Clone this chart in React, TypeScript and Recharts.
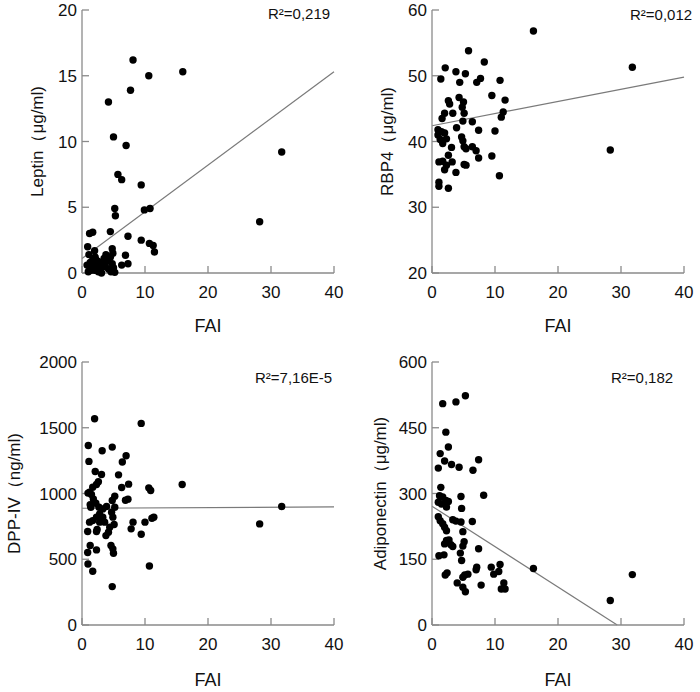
import React from 'react';
import {
  ScatterChart,
  Scatter,
  XAxis,
  YAxis,
  ReferenceLine,
} from 'recharts';

const FONT = '"Liberation Sans", Arial, sans-serif';
const AXIS = '#8a8a8a';

const faiTicks = [0, 10, 20, 30, 40];

// Leptin vs FAI
const leptinFai = [
  8.1, 16.0, 10.6, 7.7, 4.2, 5.0, 7.0, 5.7, 6.3, 9.4, 31.7, 28.2, 5.2, 5.3, 9.9, 10.8,
  1.2, 1.7, 4.5, 7.3, 9.4, 10.7, 11.3, 11.5, 0.9, 2.0, 4.8, 4.9, 3.8, 6.9, 7.3, 6.3, 5.2,
  1.0, 1.2, 1.3, 1.5, 1.7, 1.8, 2.0, 2.1, 2.3, 2.5, 2.6, 2.8, 3.0, 3.1, 3.3, 3.5, 3.7,
  4.0, 4.2, 4.5, 4.8, 5.0, 1.1, 2.2, 4.6, 0.8, 1.4,
];
const leptinValues = [
  16.2, 15.3, 15.0, 13.9, 13.0, 10.35, 9.7, 7.5, 7.1, 6.7, 9.2, 3.9, 4.9, 4.35, 4.8, 4.9,
  3.0, 3.1, 3.15, 2.8, 2.5, 2.25, 2.1, 1.6, 2.0, 1.7, 1.85, 1.5, 1.4, 1.35, 0.7, 0.6, 0.05,
  0.1, 0.5, 0.8, 0.3, 1.0, 0.6, 0.2, 1.2, 0.4, 0.9, 0.1, 0.6, 0.3, 0.0, 0.8, 1.1, 0.5,
  0.9, 0.3, 1.2, 0.7, 0.4, 1.4, 1.0, 0.1, 0.6, 0.2,
];
const leptinTrendX = [0, 40];
const leptinTrendY = [1.1, 15.3];

// RBP4 vs FAI
const rbpFai = [
  16.1, 31.8, 28.3, 5.8, 8.3, 2.1, 3.8, 5.3, 1.4, 4.4, 7.1, 7.7, 10.8, 9.5, 11.6, 4.3,
  5.0, 2.6, 2.8, 4.8, 3.3, 2.0, 1.6, 5.1, 4.9, 6.4, 11.3, 11.0, 3.9, 7.4, 10.0,
  0.95, 1.5, 0.95, 2.0, 1.3, 2.3, 1.7, 3.1, 4.7, 4.9, 5.1, 5.4, 6.4, 7.0, 7.4, 9.5,
  2.6, 1.1, 1.7, 3.2, 2.3, 2.0, 5.1, 5.4, 3.8, 10.7, 1.1, 1.1, 2.6,
];
const rbpValues = [
  56.8, 51.3, 38.7, 53.8, 52.1, 51.2, 50.6, 50.3, 49.5, 49.0, 49.0, 49.6, 49.3, 47.0, 46.3, 46.7,
  46.0, 46.2, 45.7, 45.2, 44.3, 44.3, 43.5, 44.3, 43.1, 43.0, 44.5, 43.7, 42.1, 41.7, 41.6,
  41.8, 41.5, 41.0, 41.3, 40.3, 40.4, 39.7, 39.1, 40.7, 40.1, 39.2, 38.9, 39.2, 38.6, 37.5, 37.8,
  37.9, 36.9, 37.0, 36.9, 36.4, 35.7, 36.5, 36.4, 35.3, 34.8, 33.8, 33.2, 32.9,
];
const rbpTrendX = [0, 40];
const rbpTrendY = [42.4, 49.8];

// DPP-IV vs FAI
const dppFai = [
  2.0, 9.4, 1.0, 4.8, 3.2, 7.0, 1.1, 6.4, 2.1, 3.1, 5.8, 2.6, 2.3, 1.7, 1.2, 0.95,
  7.4, 6.3, 15.9, 10.6, 10.9, 5.2, 7.3, 6.9, 4.8, 1.5, 1.8, 2.2, 2.7, 1.4, 1.3,
  3.3, 3.9, 4.7, 5.2, 31.7, 2.8, 2.3, 3.3, 1.7, 1.2, 2.8, 3.6, 4.9, 5.1, 11.4, 11.1,
  8.1, 7.8, 10.0, 28.2, 0.9, 2.3, 2.4, 4.4, 4.2, 3.8, 9.4, 1.3, 4.6, 4.9, 5.0, 2.3,
  0.9, 0.95, 10.7, 1.7, 4.8,
];
const dppValues = [
  1568, 1533, 1365, 1353, 1325, 1287, 1244, 1239, 1167, 1145, 1142, 1089, 1068, 1048, 1010, 1003,
  1071, 1046, 1068, 1043, 1023, 980, 957, 949, 947, 992, 959, 926, 896, 896, 914,
  883, 901, 858, 896, 901, 845, 820, 820, 794, 782, 782, 782, 820, 764, 820, 812,
  782, 731, 782, 769, 711, 711, 726, 744, 706, 680, 690, 604, 604, 579, 546, 571,
  551, 464, 449, 409, 292,
];
const dppTrendX = [0, 40];
const dppTrendY = [888, 898];

// Adiponectin vs FAI
const adipoFai = [
  5.3, 3.8, 1.7, 2.2, 2.6, 1.3, 7.4, 2.0, 3.1, 4.3, 1.0, 6.5, 1.4,
  1.2, 1.7, 1.0, 2.2, 2.6, 1.5, 2.3, 8.2, 4.6, 4.7,
  1.0, 1.3, 1.7, 2.0, 2.3, 3.3, 3.8, 4.6, 6.4, 4.9,
  2.3, 2.7, 2.0, 3.0, 3.3, 5.1, 4.9, 7.4, 4.5, 4.7, 1.1, 1.9, 16.1,
  7.1, 7.0, 9.4, 9.8, 10.6, 10.8, 2.4, 2.1, 5.2, 4.9, 5.7, 4.0, 7.8,
  11.4, 11.0, 11.6, 4.9, 5.3, 31.8, 28.3,
];
const adipoValues = [
  523, 509, 505, 440, 406, 391, 377, 374, 366, 360, 358, 353, 314,
  295, 292, 280, 284, 282, 276, 269, 296, 293, 266,
  247, 238, 231, 223, 215, 240, 237, 235, 236, 213,
  193, 194, 185, 183, 179, 190, 180, 174, 164, 147, 158, 160, 129,
  132, 126, 132, 116, 122, 138, 119, 114, 114, 109, 116, 96, 91,
  96, 82, 82, 86, 76, 115, 56,
];
const adipoTrendX = [0, 29.4];
const adipoTrendY = [271, 0];

const toPoints = (xs: number[], ys: number[]) => xs.map((x, i) => ({ x, y: ys[i] }));

const Dot = (p: any) => <circle cx={p.cx} cy={p.cy} r={3.7} fill="#000" />;

interface PanelProps {
  left: number;
  top: number;
  height: number;
  bottomMargin: number;
  fai: number[];
  values: number[];
  domain: [number, number];
  ticks: number[];
  title: string;
  titleOffset: number;
  trendX: number[];
  trendY: number[];
  r2: string;
  r2Left: number;
  r2Top: number;
  labelOffset: number;
}

function Panel(p: PanelProps) {
  const data = toPoints(p.fai, p.values);
  const tickStyle = { fontSize: 17, fill: '#111', fontFamily: FONT };
  return (
    <>
      <div style={{ position: 'absolute', left: p.left, top: p.top }}>
        <ScatterChart
          width={350}
          height={p.height}
          margin={{ top: 10, right: 16, bottom: p.bottomMargin, left: 0 }}
        >
          <XAxis
            type="number"
            dataKey="x"
            domain={[0, 40]}
            ticks={faiTicks}
            height={60}
            stroke={AXIS}
            strokeWidth={1.3}
            tickSize={-7}
            tickMargin={20}
            tick={tickStyle}
            label={{
              value: 'FAI',
              position: 'insideBottom',
              offset: p.labelOffset,
              style: { fontSize: 18, fill: '#111', fontFamily: FONT },
            }}
          />
          <YAxis
            type="number"
            dataKey="y"
            domain={p.domain}
            ticks={p.ticks}
            width={82}
            stroke={AXIS}
            strokeWidth={1.3}
            tickSize={-7}
            tickMargin={12}
            tick={tickStyle}
            label={{
              value: p.title,
              angle: -90,
              position: 'insideLeft',
              offset: p.titleOffset,
              style: { fontSize: 17, fill: '#111', fontFamily: FONT, textAnchor: 'middle' },
            }}
          />
          <ReferenceLine
            segment={[
              { x: p.trendX[0], y: p.trendY[0] },
              { x: p.trendX[1], y: p.trendY[1] },
            ]}
            stroke="#7a7a7a"
            strokeWidth={1.2}
          />
          <Scatter data={data} shape={Dot} isAnimationActive={false} />
        </ScatterChart>
      </div>
      <div
        style={{
          position: 'absolute',
          left: p.r2Left,
          top: p.r2Top,
          fontSize: 15,
          fontFamily: FONT,
          color: '#111',
          whiteSpace: 'nowrap',
          lineHeight: '16px',
        }}
      >
        {p.r2}
      </div>
    </>
  );
}

export default function App() {
  return (
    <div
      style={{
        position: 'absolute',
        left: 0,
        top: 0,
        width: 700,
        height: 692,
        background: '#fff',
        overflow: 'hidden',
      }}
    >
      <Panel
        left={0}
        top={0}
        height={346}
        bottomMargin={13}
        fai={leptinFai}
        values={leptinValues}
        domain={[0, 20]}
        ticks={[0, 5, 10, 15, 20]}
        title="Leptin（μg/ml)"
        titleOffset={37}
        trendX={leptinTrendX}
        trendY={leptinTrendY}
        r2="R²=0,219"
        r2Left={268}
        r2Top={6}
        labelOffset={1}
      />
      <Panel
        left={350}
        top={0}
        height={346}
        bottomMargin={13}
        fai={rbpFai}
        values={rbpValues}
        domain={[20, 60]}
        ticks={[20, 30, 40, 50, 60]}
        title="RBP4（μg/ml)"
        titleOffset={37}
        trendX={rbpTrendX}
        trendY={rbpTrendY}
        r2="R²=0,012"
        r2Left={630}
        r2Top={7}
        labelOffset={1}
      />
      <Panel
        left={0}
        top={352}
        height={340}
        bottomMargin={7}
        fai={dppFai}
        values={dppValues}
        domain={[0, 2000]}
        ticks={[0, 500, 1000, 1500, 2000]}
        title="DPP-IV（ng/ml)"
        titleOffset={14}
        trendX={dppTrendX}
        trendY={dppTrendY}
        r2="R²=7,16E-5"
        r2Left={255}
        r2Top={370}
        labelOffset={-1}
      />
      <Panel
        left={350}
        top={352}
        height={340}
        bottomMargin={7}
        fai={adipoFai}
        values={adipoValues}
        domain={[0, 600]}
        ticks={[0, 150, 300, 450, 600]}
        title="Adiponectin（μg/ml)"
        titleOffset={30}
        trendX={adipoTrendX}
        trendY={adipoTrendY}
        r2="R²=0,182"
        r2Left={611}
        r2Top={370}
        labelOffset={-1}
      />
    </div>
  );
}
